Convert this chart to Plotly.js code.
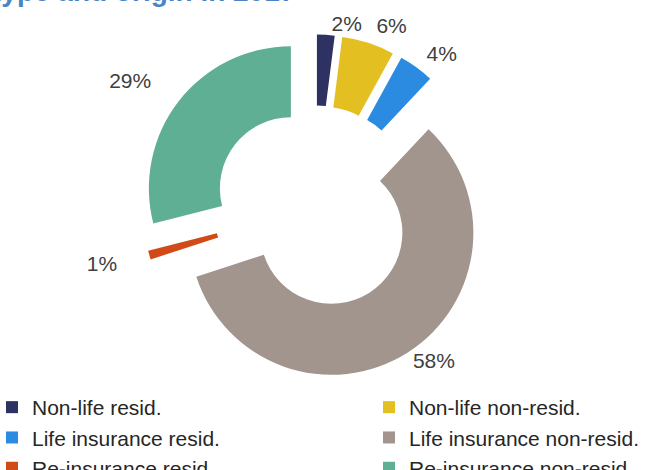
<!DOCTYPE html>
<html>
<head>
<meta charset="utf-8">
<script src="https://cdn.plot.ly/plotly-3.0.1.min.js"></script>
<style>
html, body { margin: 0; padding: 0; overflow: hidden; background: #fff; }
#chart { width: 780px; height: 470px; }
</style>
</head>
<body>
<div id="chart"></div>
<script>
// ---- data ----
var categories = ["Non-life resid.", "Non-life non-resid.", "Life insurance resid.",
                  "Life insurance non-resid.", "Re-insurance resid.", "Re-insurance non-resid"];
var shares = [2, 6, 4, 58, 1, 29];   // percent of total
var sliceColors = ["#2d3262", "#e4bf22", "#2a8be0", "#a1958d", "#d14b19", "#5faf94"];
var titleText = "type and origin in 2017";

// ---- geometry (pixels) ----
var W = 780, H = 470;
var CX = 315, CY = 207;      // pie centre
var R = 142;                 // outer radius
var PULL = 0.215;

function dom(r) {
  return { x: [(CX - r) / W, (CX + r) / W], y: [1 - (CY + r) / H, 1 - (CY - r) / H] };
}

var clear = categories.map(function () { return "rgba(0,0,0,0)"; });
var labelFont = { family: "Liberation Sans, Arial, sans-serif", size: 21, color: "#404040" };

var main = {
  type: "pie",
  labels: categories,
  values: shares,
  sort: false,
  direction: "clockwise",
  rotation: 0,
  hole: 0.5,
  pull: PULL,
  marker: { colors: sliceColors, line: { width: 0 } },
  textinfo: "none",
  hoverinfo: "label+percent",
  domain: dom(R * (1 + PULL)),
  showlegend: true
};

// transparent rings that only carry the percentage labels (outside text)
function labelTrace(r, showIdx) {
  return {
    type: "pie",
    labels: categories,
    values: shares,
    sort: false,
    direction: "clockwise",
    rotation: 0,
    marker: { colors: clear, line: { width: 0 } },
    texttemplate: "%{value}%",
    textposition: categories.map(function (c, i) { return showIdx.indexOf(i) >= 0 ? "outside" : "none"; }),
    outsidetextfont: labelFont,
    textfont: labelFont,
    hoverinfo: "skip",
    showlegend: false,
    domain: dom(r)
  };
}

var labelsA = labelTrace(180, [1, 2]);
var labelsB = labelTrace(172, [0, 3]);
var labelsC = labelTrace(200, [4, 5]);

var layout = {
  width: W,
  height: H,
  margin: { l: 0, r: 0, t: 0, b: 0, autoexpand: false },
  paper_bgcolor: "#ffffff",
  showlegend: true,
  legend: {
    orientation: "h",
    x: 0, xanchor: "left",
    y: 0.1766, yanchor: "top",
    entrywidth: 340, entrywidthmode: "pixels",
    indentation: -8,
    traceorder: "normal",
    font: { family: "Liberation Sans, Arial, sans-serif", size: 21, color: "#262626" },
    bgcolor: "rgba(0,0,0,0)"
  },
  annotations: [{
    text: "<b>" + titleText + "</b>",
    xref: "paper", yref: "paper",
    x: 297 / W, xanchor: "right",
    y: 1 - 9 / H, yanchor: "bottom",
    showarrow: false,
    font: { family: "Liberation Sans, Arial, sans-serif", size: 28, color: "#4a84c4" }
  }]
};

Plotly.newPlot("chart", [main, labelsA, labelsB, labelsC], layout, { staticPlot: true, displayModeBar: false });
</script>
</body>
</html>
